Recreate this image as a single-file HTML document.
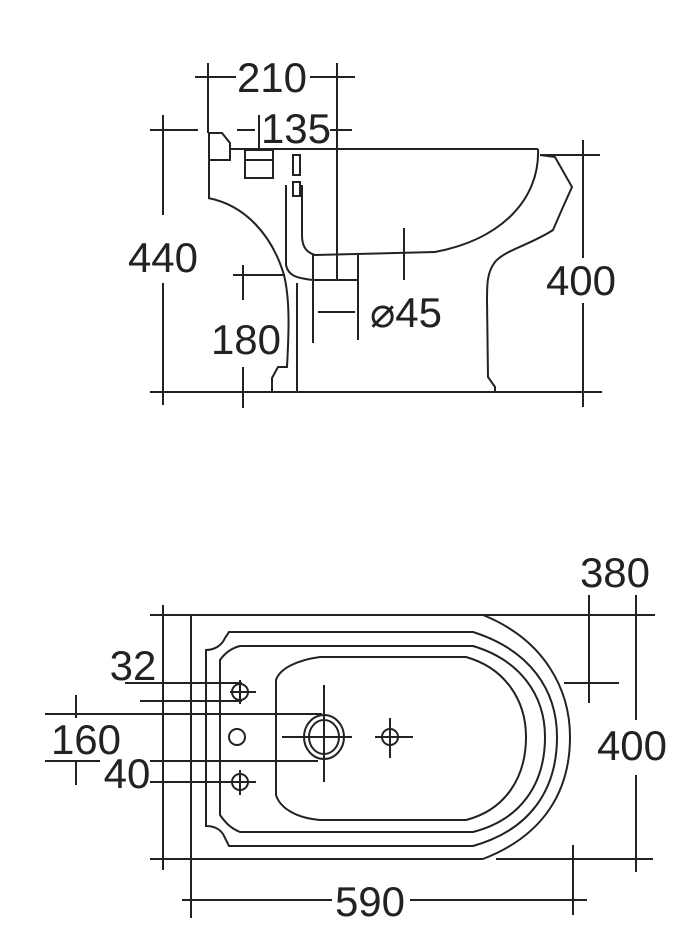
<!DOCTYPE html>
<html><head><meta charset="utf-8"><style>
html,body{margin:0;padding:0;background:#fff}
svg{display:block}
text{font-family:"Liberation Sans",sans-serif;font-size:42px;fill:#222}
</style></head><body>
<svg width="697" height="950" viewBox="0 0 697 950" xmlns="http://www.w3.org/2000/svg">
<g fill="none" stroke="#222" stroke-width="2">
<!-- TOP VIEW dims -->
<line x1="195" y1="77" x2="236" y2="77"/><line x1="310" y1="77" x2="355" y2="77"/>
<line x1="208" y1="63" x2="208" y2="133"/>
<line x1="337" y1="63" x2="337" y2="280"/>
<line x1="237" y1="130" x2="255" y2="130"/><line x1="330" y1="130" x2="352" y2="130"/>
<line x1="259" y1="115" x2="259" y2="148"/>
<line x1="163" y1="115" x2="163" y2="215"/><line x1="163" y1="283" x2="163" y2="405"/>
<line x1="150" y1="130" x2="198" y2="130"/>
<line x1="150" y1="392" x2="602" y2="392"/>
<line x1="583" y1="140" x2="583" y2="258"/><line x1="583" y1="303" x2="583" y2="407"/>
<line x1="540" y1="155" x2="600" y2="155"/>
<line x1="243" y1="265" x2="243" y2="300"/><line x1="243" y1="367" x2="243" y2="408"/>
<line x1="233" y1="275" x2="285" y2="275"/>
<line x1="358" y1="255" x2="358" y2="340"/>
<line x1="404" y1="228" x2="404" y2="280"/>
<!-- toilet side outline -->
<path d="M209 198 L209 133 L222 133 L230 143 L230 160 L209 160"/>
<rect x="245" y="150" width="28" height="28"/>
<line x1="230" y1="149" x2="538" y2="149"/>
<line x1="273" y1="160" x2="245" y2="160"/>
<rect x="293" y="155" width="7" height="20"/>
<rect x="293" y="182" width="7" height="14"/>
<path d="M538 149 C540 200 500 240 435 252 L433 252"/>
<path d="M435 252 L315 255 C305 252 302 245 302 235 L302 185"/>
<path d="M286 185 L286 265 C288 275 295 278 313 280 L357 280"/>
<path d="M208 198 C245 205 272 235 284 275 C290 300 289 330 287 367 L278 367 L272 378 L272 392"/>
<line x1="297" y1="283" x2="297" y2="392"/>
<line x1="313" y1="255" x2="313" y2="343"/>
<line x1="318" y1="312" x2="355" y2="312"/>
<path d="M540 155 L555 157 L572 187 L563 207 L553 230 C530 245 505 250 495 262 C487 272 487 285 487 300 L488 377 L495 387 L495 392"/>
<!-- BOTTOM (plan) -->
<line x1="150" y1="615" x2="655" y2="615"/>
<line x1="150" y1="859" x2="483" y2="859"/><line x1="496" y1="859" x2="653" y2="859"/>
<line x1="163" y1="605" x2="163" y2="870"/>
<line x1="191" y1="615" x2="191" y2="918"/>
<path d="M483 615 C545 640 570 690 570 737 C570 790 545 835 483 859"/>
<path d="M229 632 L473 632 C530 650 557 690 557 737 C557 790 530 830 473 846 L229 846 L225 838 C222 830 215 826 206 826 L206 650 C215 650 222 645 225 638 Z"/>
<path d="M240 646 L473 646 C520 660 545 695 545 737 C545 785 520 820 473 832 L240 832 C230 828 225 822 220 815 L220 660 C225 653 232 648 240 646 Z"/>
<path d="M320 657 L466 657 C505 668 526 700 526 737 C526 778 505 810 466 820 L320 820 C296 818 280 808 276 795 L276 680 C280 668 298 660 320 657 Z"/>
<circle cx="240" cy="692" r="8"/><line x1="230" y1="692" x2="256" y2="692"/><line x1="240" y1="680" x2="240" y2="704"/>
<circle cx="240" cy="782" r="8"/><line x1="230" y1="782" x2="256" y2="782"/><line x1="240" y1="770" x2="240" y2="795"/>
<circle cx="237" cy="737" r="8"/>
<ellipse cx="324" cy="737" rx="20" ry="22"/><ellipse cx="324" cy="737" rx="15" ry="17"/>
<line x1="324" y1="685" x2="324" y2="782"/><line x1="282" y1="737" x2="352" y2="737"/>
<circle cx="390" cy="737" r="8"/><line x1="375" y1="737" x2="413" y2="737"/><line x1="390" y1="718" x2="390" y2="758"/>
<line x1="125" y1="683" x2="242" y2="683"/>
<line x1="140" y1="701" x2="242" y2="701"/>
<line x1="45" y1="714" x2="322" y2="714"/>
<line x1="45" y1="761" x2="100" y2="761"/><line x1="150" y1="761" x2="318" y2="761"/>
<line x1="76" y1="695" x2="76" y2="718"/><line x1="76" y1="760" x2="76" y2="785"/>
<line x1="150" y1="782" x2="240" y2="782"/>
<line x1="589" y1="595" x2="589" y2="703"/>
<line x1="564" y1="683" x2="619" y2="683"/>
<line x1="636" y1="595" x2="636" y2="720"/><line x1="636" y1="775" x2="636" y2="872"/>
<line x1="182" y1="900" x2="332" y2="900"/><line x1="410" y1="900" x2="587" y2="900"/>
<line x1="573" y1="845" x2="573" y2="915"/>
</g>
<text x="272" y="92" text-anchor="middle">210</text>
<text x="296" y="143" text-anchor="middle">135</text>
<text x="163" y="272" text-anchor="middle">440</text>
<text x="581" y="295" text-anchor="middle">400</text>
<text x="246" y="354" text-anchor="middle">180</text>
<text x="406" y="327" text-anchor="middle">⌀45</text>
<text x="615" y="587" text-anchor="middle">380</text>
<text x="133" y="680" text-anchor="middle">32</text>
<text x="86" y="754" text-anchor="middle">160</text>
<text x="127" y="788" text-anchor="middle">40</text>
<text x="632" y="760" text-anchor="middle">400</text>
<text x="370" y="916" text-anchor="middle">590</text>
</svg>
</body></html>
